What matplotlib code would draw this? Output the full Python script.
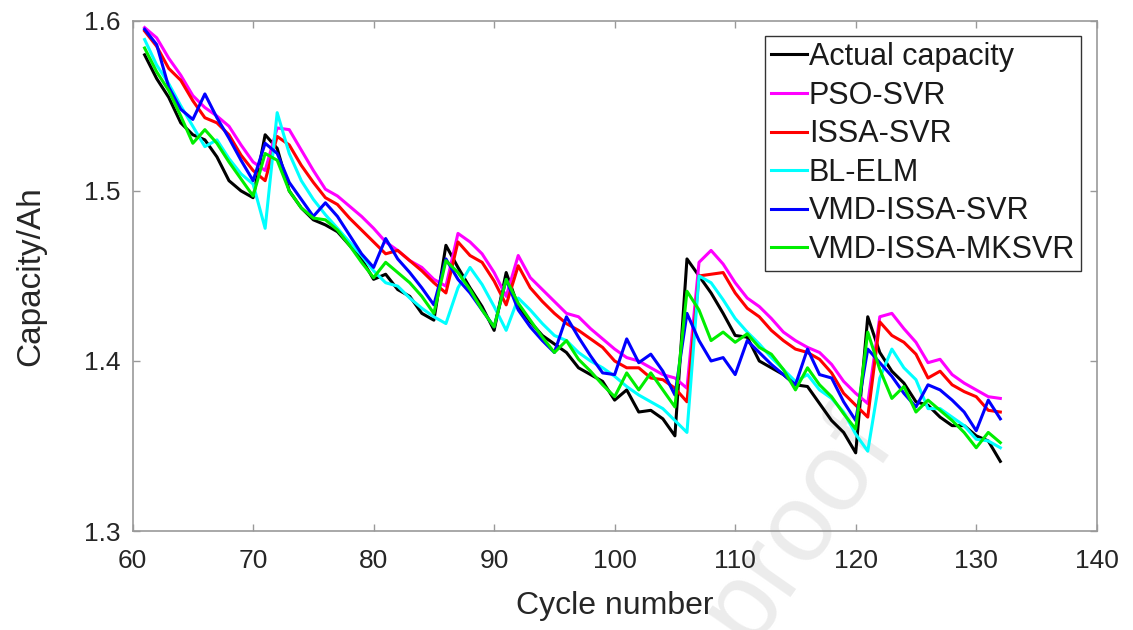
import numpy as np
import matplotlib
matplotlib.use("Agg")
import matplotlib.pyplot as plt

plt.rcParams['font.family'] = ['Liberation Sans', 'DejaVu Sans']

cycles = np.arange(61, 133)

actual = [1.580, 1.566, 1.555, 1.540, 1.533, 1.530, 1.520, 1.506, 1.500, 1.496,
          1.533, 1.525, 1.500, 1.490, 1.483, 1.480, 1.476, 1.468, 1.460, 1.448,
          1.451, 1.442, 1.438, 1.428, 1.424, 1.468, 1.455, 1.443, 1.432, 1.418,
          1.452, 1.432, 1.423, 1.415, 1.410, 1.405, 1.396, 1.392, 1.388, 1.377,
          1.383, 1.370, 1.371, 1.366, 1.356, 1.460, 1.450, 1.440, 1.428, 1.415,
          1.414, 1.400, 1.396, 1.392, 1.386, 1.385, 1.375, 1.365, 1.358, 1.346,
          1.426, 1.405, 1.394, 1.387, 1.376, 1.374, 1.367, 1.362, 1.362, 1.356,
          1.353, 1.341]

pso_svr = [1.596, 1.590, 1.578, 1.568, 1.556, 1.549, 1.544, 1.538, 1.527, 1.517,
           1.512, 1.537, 1.536, 1.524, 1.512, 1.501, 1.497, 1.491, 1.485, 1.478,
           1.470, 1.465, 1.459, 1.455, 1.448, 1.444, 1.475, 1.470, 1.463, 1.452,
           1.438, 1.462, 1.449, 1.442, 1.435, 1.428, 1.426, 1.419, 1.413, 1.407,
           1.402, 1.400, 1.396, 1.392, 1.390, 1.384, 1.458, 1.465, 1.457, 1.446,
           1.437, 1.432, 1.425, 1.417, 1.412, 1.408, 1.405, 1.398, 1.388, 1.381,
           1.375, 1.426, 1.428, 1.419, 1.411, 1.399, 1.401, 1.392, 1.387, 1.383,
           1.379, 1.378]

issa_svr = [1.594, 1.585, 1.572, 1.565, 1.553, 1.543, 1.540, 1.533, 1.521, 1.512,
            1.506, 1.532, 1.527, 1.515, 1.505, 1.496, 1.492, 1.484, 1.477, 1.470,
            1.463, 1.465, 1.459, 1.453, 1.446, 1.440, 1.470, 1.462, 1.458, 1.447,
            1.433, 1.456, 1.443, 1.435, 1.428, 1.422, 1.418, 1.413, 1.408, 1.400,
            1.396, 1.396, 1.390, 1.389, 1.384, 1.376, 1.450, 1.451, 1.452, 1.440,
            1.431, 1.426, 1.418, 1.412, 1.407, 1.405, 1.401, 1.393, 1.381, 1.374,
            1.367, 1.423, 1.415, 1.411, 1.404, 1.390, 1.394, 1.386, 1.382, 1.379,
            1.371, 1.370]

bl_elm = [1.589, 1.574, 1.563, 1.550, 1.538, 1.526, 1.530, 1.519, 1.510, 1.504,
          1.478, 1.546, 1.522, 1.506, 1.495, 1.486, 1.478, 1.470, 1.462, 1.453,
          1.446, 1.444, 1.437, 1.431, 1.426, 1.422, 1.443, 1.455, 1.445, 1.432,
          1.418, 1.437, 1.430, 1.422, 1.415, 1.412, 1.405, 1.400, 1.396, 1.391,
          1.385, 1.380, 1.376, 1.372, 1.365, 1.358, 1.450, 1.446, 1.436, 1.425,
          1.417, 1.410, 1.402, 1.395, 1.388, 1.392, 1.383, 1.378, 1.370, 1.357,
          1.347, 1.390, 1.407, 1.396, 1.389, 1.372, 1.372, 1.367, 1.362, 1.354,
          1.353, 1.349]

vmd_issa_svr = [1.595, 1.586, 1.561, 1.548, 1.542, 1.557, 1.543, 1.531, 1.518, 1.506,
                1.528, 1.522, 1.505, 1.495, 1.485, 1.493, 1.485, 1.474, 1.463, 1.455,
                1.472, 1.460, 1.452, 1.443, 1.433, 1.460, 1.448, 1.440, 1.430, 1.420,
                1.448, 1.430, 1.420, 1.412, 1.405, 1.426, 1.414, 1.403, 1.393, 1.392,
                1.413, 1.399, 1.404, 1.394, 1.380, 1.428, 1.412, 1.400, 1.402, 1.392,
                1.412, 1.405, 1.398, 1.392, 1.386, 1.407, 1.392, 1.390, 1.376, 1.365,
                1.407, 1.399, 1.391, 1.381, 1.373, 1.386, 1.383, 1.377, 1.370, 1.359,
                1.377, 1.366]

vmd_issa_mksvr = [1.584, 1.570, 1.559, 1.544, 1.528, 1.536, 1.528, 1.517, 1.507, 1.497,
                  1.522, 1.518, 1.500, 1.490, 1.484, 1.483, 1.477, 1.468, 1.458, 1.449,
                  1.458, 1.452, 1.446, 1.438, 1.428, 1.459, 1.452, 1.442, 1.430, 1.420,
                  1.448, 1.434, 1.424, 1.414, 1.405, 1.412, 1.401, 1.394, 1.386, 1.379,
                  1.393, 1.383, 1.393, 1.383, 1.373, 1.441, 1.430, 1.412, 1.417, 1.411,
                  1.416, 1.408, 1.404, 1.395, 1.383, 1.396, 1.386, 1.379, 1.369, 1.360,
                  1.417, 1.395, 1.378, 1.385, 1.370, 1.377, 1.371, 1.365, 1.358, 1.349,
                  1.358, 1.352]

series = [
    ('Actual capacity', actual, '#000000'),
    ('PSO-SVR', pso_svr, '#ff00ff'),
    ('ISSA-SVR', issa_svr, '#ff0000'),
    ('BL-ELM', bl_elm, '#00ffff'),
    ('VMD-ISSA-SVR', vmd_issa_svr, '#0000ff'),
    ('VMD-ISSA-MKSVR', vmd_issa_mksvr, '#00ee00'),
]

fig = plt.figure(figsize=(11.33, 6.3), dpi=100)
ax = fig.add_axes([0.117, 0.157, 0.851, 0.81])

# faint watermark behind the axes contents
ax.text(0.69, 0.01, 'proof', transform=ax.transAxes, fontsize=80,
        color='#ececec', rotation=55, ha='center', va='center', zorder=0,
        clip_on=False)

for name, vals, col in series:
    ax.plot(cycles, vals, color=col, lw=2.2, label=name)

ax.set_xlim(60, 140)
ax.set_ylim(1.3, 1.6)
ax.set_xticks(np.arange(60, 141, 10))
ax.set_yticks([1.3, 1.4, 1.5, 1.6])
ax.set_yticklabels(['1.3', '1.4', '1.5', '1.6'])
ax.tick_params(direction='in', length=5, width=1, colors='#999999',
               labelcolor='#262626', labelsize=19, top=True, right=True)
ax.tick_params(axis='x', pad=13)
ax.tick_params(axis='y', pad=9)
for sp in ax.spines.values():
    sp.set_color('#999999')
    sp.set_linewidth(1.2)

ax.set_xlabel('Cycle number', fontsize=23, color='#262626', labelpad=13)
ax.set_ylabel('Capacity/Ah', fontsize=24, color='#262626', labelpad=27)

leg = ax.legend(loc='upper right', fontsize=22, handlelength=1.2,
                handletextpad=0.05, labelspacing=0.28, borderpad=0.2,
                borderaxespad=0.5, fancybox=False, framealpha=1)
leg.get_frame().set_edgecolor('#333333')
leg.get_frame().set_linewidth(1.0)
for t in leg.get_texts():
    t.set_color('#1a1a1a')

fig.savefig('out.png', dpi=100, facecolor='white')
